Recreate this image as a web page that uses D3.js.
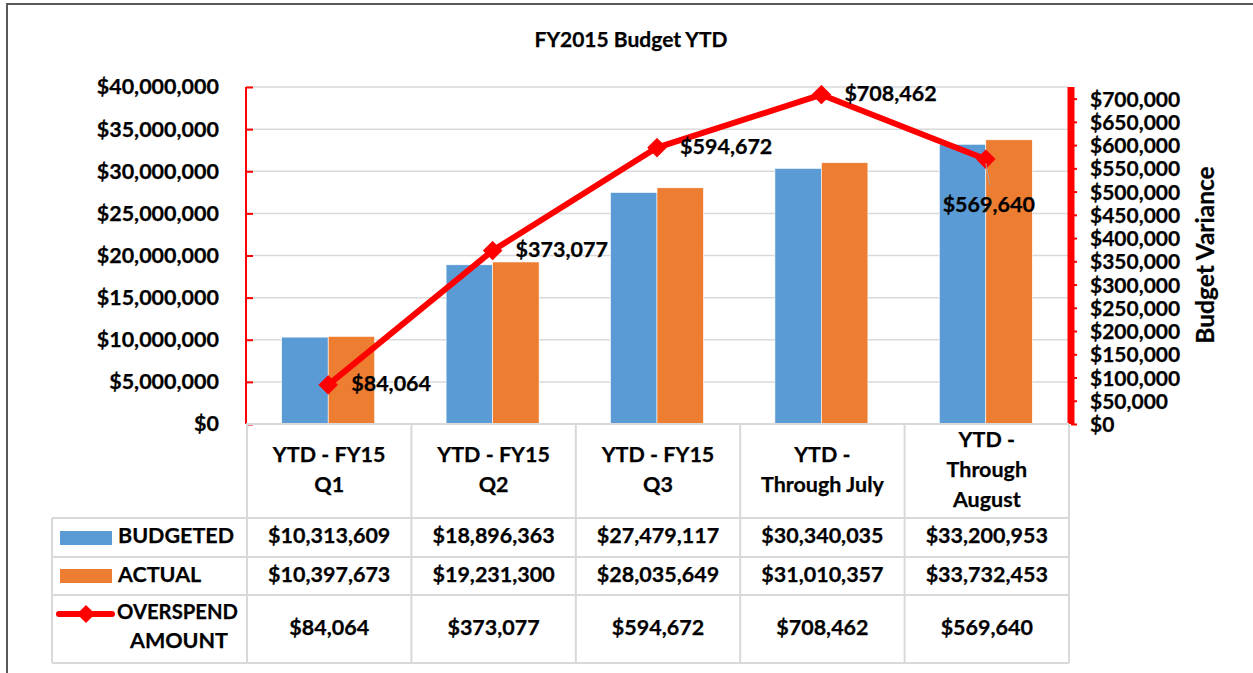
<!DOCTYPE html>
<html><head><meta charset="utf-8">
<script src="https://cdn.jsdelivr.net/npm/d3@7"></script>
<style>
html,body{margin:0;padding:0;background:#fff;}
svg{display:block;font-family:Lato,"Open Sans",sans-serif;font-weight:bold;}
svg text{stroke:#000;stroke-width:0.25px;}
</style></head>
<body><svg id="c" width="1253" height="673"></svg>
<script>
const categories = [["YTD - FY15","Q1"],["YTD - FY15","Q2"],["YTD - FY15","Q3"],["YTD -","Through July"],["YTD -","Through","August"]];
const budgeted = [10313609, 18896363, 27479117, 30340035, 33200953];
const actual = [10397673, 19231300, 28035649, 31010357, 33732453];
const overspend = [84064, 373077, 594672, 708462, 569640];
const leftTicks = [0,5e6,10e6,15e6,20e6,25e6,30e6,35e6,40e6];
const rightTicks = d3.range(0, 700001, 50000);
const seriesNames = ["BUDGETED","ACTUAL"];
const title = "FY2015 Budget YTD";
const rightTitle = "Budget Variance";

const BLUE="#5b9bd5", ORANGE="#ed7d31", RED="#ff0000", GRID="#d9d9d9";
const FS = 21.5;
const svg = d3.select("#c");
const X0=246, X1=1068, YT=87, YB=424;
const fmt = d3.format("$,.0f");

// outer border
svg.append("rect").attr("x",7).attr("y",4).attr("width",1400).attr("height",800)
  .attr("fill","none").attr("stroke","#595959").attr("stroke-width",2);

svg.append("text").attr("x",631).attr("y",42).attr("text-anchor","middle")
  .attr("dominant-baseline","middle").attr("font-size",21).text(title);

const idx = d3.range(categories.length);
const x = d3.scaleBand().domain(idx).range([X0,X1]).padding(0);
const bw = x.bandwidth();
const xs = d3.scaleBand().domain([0,1]).range([0,bw]).paddingInner(0).paddingOuter(0.768);
const yL = d3.scaleLinear().domain([0,40e6]).range([YB,YT]);
const yR = d3.scaleLinear().domain([0,725000]).range([YB,YT]);

// gridlines
svg.append("g").selectAll("line").data(leftTicks.filter(d=>d>0)).join("line")
  .attr("x1",X0).attr("x2",X1).attr("y1",d=>yL(d)).attr("y2",d=>yL(d))
  .attr("stroke",GRID).attr("stroke-width",1.5);

// bars
const series = [budgeted, actual];
const cols = [BLUE, ORANGE];
series.forEach((s,si)=>{
  svg.append("g").selectAll("rect").data(s).join("rect")
    .attr("x",(d,i)=>x(i)+xs(si)).attr("width",xs.bandwidth())
    .attr("y",d=>yL(d)).attr("height",d=>YB-yL(d))
    .attr("fill",cols[si]).attr("stroke","#fff").attr("stroke-width",0.6);
});

// left axis
const la = svg.append("g").attr("transform",`translate(${X0},0)`)
  .call(d3.axisLeft(yL).tickValues(leftTicks).tickSize(-7).tickPadding(27).tickFormat(fmt));
la.select(".domain").attr("stroke",RED).attr("stroke-width",2).attr("d",`M0,${YT}V${YB}`);
la.selectAll(".tick line").attr("stroke",RED).attr("stroke-width",2);
la.selectAll(".tick text").attr("font-size",FS).attr("font-weight","bold").attr("font-family","Lato").attr("fill","#000").attr("x",-27);

// right axis
const ra = svg.append("g").attr("transform",`translate(${X1+3},0)`)
  .call(d3.axisRight(yR).tickValues(rightTicks).tickSize(6).tickPadding(13).tickFormat(fmt));
ra.select(".domain").attr("stroke",RED).attr("stroke-width",7).attr("d",`M0,${YT}V${YB}`);
ra.selectAll(".tick line").attr("stroke",RED).attr("stroke-width",2);
ra.selectAll(".tick text").attr("font-size",21).attr("font-weight","bold").attr("font-family","Lato").attr("fill","#000").attr("dy","0.36em");

svg.append("text").attr("transform","translate(1208,255) rotate(-90)")
  .attr("text-anchor","middle").attr("dominant-baseline","middle")
  .attr("font-size",24.5).text(rightTitle);

// line
const cx = i => x(i)+bw/2;
svg.append("path").datum(overspend)
  .attr("d",d3.line().x((d,i)=>cx(i)).y(d=>yR(d)))
  .attr("fill","none").attr("stroke",RED).attr("stroke-width",6).attr("stroke-linejoin","round");
svg.append("g").selectAll("path").data(overspend).join("path")
  .attr("d",d3.symbol().type(d3.symbolSquare).size(165))
  .attr("transform",(d,i)=>`translate(${cx(i)},${yR(d)}) rotate(45)`)
  .attr("fill",RED).attr("stroke",RED).attr("stroke-width",1).attr("stroke-linejoin","round");

// data labels
const last = overspend.length-1;
svg.append("line").attr("x1",cx(last)).attr("y1",yR(overspend[last])+4)
  .attr("x2",cx(last)+4).attr("y2",yR(overspend[last])+26).attr("stroke","#a6a6a6").attr("stroke-width",1);
svg.append("g").selectAll("text").data(overspend).join("text")
  .attr("x",(d,i)=> i===last ? cx(i)+3 : cx(i)+23)
  .attr("y",(d,i)=> i===last ? yR(d)+47 : yR(d)+1)
  .attr("text-anchor",(d,i)=> i===last ? "middle":"start")
  .attr("dominant-baseline","middle").attr("font-size",FS).text(d=>fmt(d));

// table
const tg = svg.append("g").attr("stroke",GRID).attr("stroke-width",2);
const rowsY = [424, 518, 557, 595, 663];
const LX = 52;
idx.concat([idx.length]).forEach(i=>{
  const xx = i<idx.length ? x(i) : X1;
  tg.append("line").attr("x1",xx+1).attr("x2",xx+1).attr("y1",424).attr("y2",663);
});
tg.append("line").attr("x1",LX).attr("x2",LX).attr("y1",518).attr("y2",663);
tg.append("line").attr("x1",X0).attr("x2",X1+1).attr("y1",424).attr("y2",424);
rowsY.slice(1).forEach(yy=>tg.append("line").attr("x1",LX).attr("x2",X1+1).attr("y1",yy).attr("y2",yy));

// header text
categories.forEach((lines,i)=>{
  const t = svg.append("text").attr("text-anchor","middle").attr("font-size",FS);
  const start = 471 - (lines.length-1)*15;
  lines.forEach((l,j)=>t.append("tspan").attr("x",cx(i)+1).attr("y",start+j*30).attr("dominant-baseline","middle").text(l));
});
// values
const rowCenters = [537.5, 576, 629];
[budgeted, actual, overspend].forEach((arr,r)=>{
  svg.append("g").selectAll("text").data(arr).join("text")
    .attr("x",(d,i)=>cx(i)+1).attr("y",rowCenters[r]).attr("text-anchor","middle")
    .attr("dominant-baseline","middle").attr("font-size",FS).text(d=>fmt(d));
});
// legend keys
svg.append("rect").attr("x",60).attr("y",531).attr("width",52).attr("height",14).attr("fill",BLUE);
svg.append("rect").attr("x",60).attr("y",569).attr("width",52).attr("height",14).attr("fill",ORANGE);
svg.append("text").attr("x",118).attr("y",537.5).attr("dominant-baseline","middle").attr("font-size",FS).text(seriesNames[0]);
svg.append("text").attr("x",118).attr("y",576).attr("dominant-baseline","middle").attr("font-size",FS).text(seriesNames[1]);
svg.append("line").attr("x1",59).attr("x2",112).attr("y1",614).attr("y2",614).attr("stroke",RED).attr("stroke-width",6).attr("stroke-linecap","round");
svg.append("path").attr("d",d3.symbol().type(d3.symbolSquare).size(165)).attr("transform","translate(86,614) rotate(45)").attr("fill",RED);
const ot = svg.append("text").attr("font-size",FS);
ot.append("tspan").attr("x",117).attr("y",613).attr("text-anchor","start").attr("dominant-baseline","middle").attr("textLength",121).attr("lengthAdjust","spacingAndGlyphs").text("OVERSPEND");
ot.append("tspan").attr("x",179).attr("y",642).attr("text-anchor","middle").attr("dominant-baseline","middle").text("AMOUNT");
</script></body></html>
